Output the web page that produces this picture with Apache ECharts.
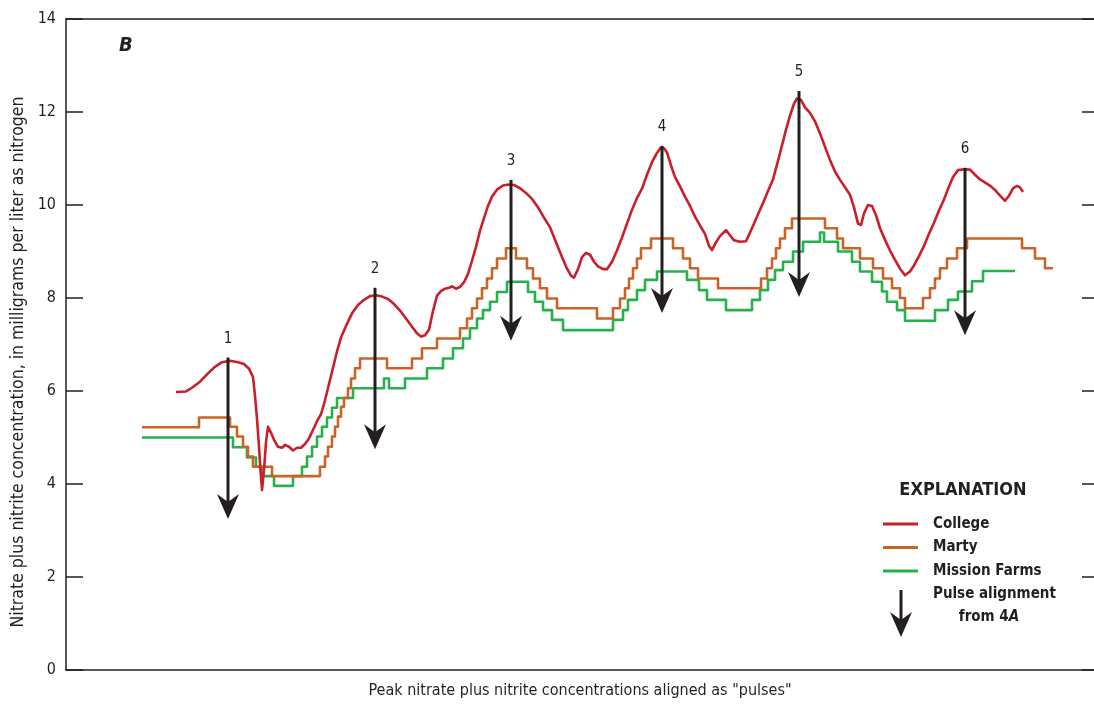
<!DOCTYPE html>
<html>
<head>
<meta charset="utf-8">
<script src="https://cdn.jsdelivr.net/npm/echarts@6/dist/echarts.min.js"></script>
<style>
html,body{margin:0;padding:0;background:#fff;}
#chart{width:1094px;height:707px;}
</style>
</head>
<body>
<div id="chart"></div>
<script>
// Aligned record: [position along the aligned record, nitrate plus nitrite (mg/L as N)]
const college = [
  [110,5.98],[120,5.99],[126,6.07],[134,6.2],[142,6.38],[149,6.52],[156,6.62],[164,6.65],[172,6.62],[178,6.58],
  [183,6.48],[187,6.3],[189,5.9],[191,5.4],[193,4.8],[194.5,4.3],[196,3.87],[198,4.3],[200,4.9],[202,5.23],
  [205,5.1],[208,4.95],[212,4.8],[216,4.78],[219,4.84],[223,4.8],[227,4.72],[231,4.78],[235,4.78],[239,4.86],
  [243,4.98],[247,5.16],[251,5.35],[255,5.5],[259,5.8],[263,6.15],[267,6.5],[271,6.85],[275,7.15],[280,7.4],
  [286,7.67],[292,7.85],[298,7.96],[304,8.04],[310,8.06],[316,8.03],[322,7.98],[328,7.87],[334,7.73],[340,7.56],
  [346,7.38],[351,7.24],[355,7.17],[359,7.2],[363,7.32],[367,7.72],[371,8.05],[375,8.15],[379,8.2],[383,8.22],
  [386,8.25],[390,8.2],[394,8.24],[398,8.34],[402,8.52],[406,8.8],[410,9.1],[414,9.45],[418,9.72],[422,9.98],
  [426,10.18],[431,10.33],[437,10.42],[443,10.44],[448,10.43],[454,10.36],[460,10.26],[466,10.13],[472,9.95],[478,9.73],
  [484,9.52],[490,9.2],[496,8.88],[501,8.63],[505,8.48],[508,8.44],[512,8.62],[516,8.88],[520,8.97],[524,8.93],
  [528,8.78],[532,8.68],[537,8.62],[541,8.62],[546,8.78],[551,9.02],[556,9.3],[561,9.6],[566,9.9],[571,10.15],
  [576,10.35],[581,10.65],[586,10.92],[591,11.12],[595,11.24],[598,11.22],[601,11.13],[605,10.85],[609,10.6],[614,10.4],
  [619,10.18],[624,9.98],[629,9.75],[634,9.56],[639,9.38],[643,9.12],[646,9.03],[650,9.2],[654,9.33],[660,9.46],
  [664,9.35],[668,9.24],[674,9.21],[680,9.22],[686,9.5],[692,9.8],[697,10.04],[702,10.3],[707,10.55],[712,10.95],
  [716,11.28],[720,11.62],[724,11.92],[728,12.18],[731,12.29],[735,12.26],[739,12.1],[744,11.98],[749,11.8],[754,11.54],
  [759,11.25],[764,10.97],[769,10.72],[774,10.54],[779,10.38],[784,10.22],[788,9.95],[792,9.6],[795,9.57],[798,9.82],
  [802,10.0],[806,9.98],[810,9.78],[814,9.5],[819,9.25],[824,9.02],[829,8.82],[834,8.63],[839,8.49],[844,8.57],
  [848,8.7],[853,8.9],[858,9.12],[863,9.38],[868,9.62],[873,9.88],[878,10.12],[883,10.4],[887,10.6],[892,10.75],
  [898,10.77],[904,10.76],[909,10.65],[914,10.55],[920,10.47],[925,10.4],[930,10.3],[935,10.18],[939,10.09],[943,10.2],
  [947,10.36],[951,10.41],[954,10.38],[957,10.28]
];

// Stepped records: each value holds until the next position
const marty = [
  [76,5.22],[133,5.43],[164,5.23],[171,5.02],[177,4.8],[182,4.59],[187,4.37],[206,4.17],[254,4.37],[259,4.59],
  [262,4.8],[266,5.02],[269,5.23],[272,5.45],[275,5.66],[278,5.85],[282,6.06],[285,6.27],[289,6.49],[294,6.7],
  [321,6.49],[346,6.7],[356,6.92],[371,7.13],[394,7.35],[401,7.56],[406,7.78],[411,7.99],[416,8.21],[421,8.42],
  [426,8.64],[431,8.85],[440,9.07],[450,8.85],[461,8.64],[467,8.42],[474,8.21],[481,7.99],[491,7.78],[531,7.56],
  [547,7.78],[554,7.99],[559,8.21],[563,8.42],[567,8.64],[571,8.85],[575,9.07],[585,9.28],[607,9.07],[617,8.85],
  [624,8.64],[632,8.42],[652,8.21],[695,8.42],[701,8.64],[706,8.85],[710,9.07],[714,9.28],[719,9.5],[726,9.71],
  [759,9.5],[771,9.28],[777,9.07],[794,8.85],[807,8.64],[817,8.42],[826,8.21],[834,8.0],[839,7.78],[857,8.0],
  [864,8.21],[869,8.42],[874,8.64],[881,8.85],[891,9.07],[901,9.28],[956,9.07],[969,8.85],[979,8.64],[987,8.64]
];

const missionFarms = [
  [76,5.0],[167,4.79],[181,4.57],[190,4.37],[196,4.17],[208,3.96],[227,4.17],[236,4.37],[241,4.59],[246,4.8],
  [251,5.02],[256,5.23],[261,5.43],[266,5.64],[271,5.85],[287,6.06],[318,6.27],[323,6.06],[339,6.27],[361,6.49],
  [377,6.7],[387,6.92],[397,7.13],[404,7.35],[411,7.56],[417,7.74],[424,7.92],[431,8.13],[441,8.35],[462,8.13],
  [469,7.92],[477,7.74],[486,7.53],[497,7.31],[547,7.53],[557,7.74],[562,7.96],[571,8.17],[579,8.39],[591,8.57],
  [621,8.39],[633,8.17],[641,7.96],[660,7.74],[686,7.96],[694,8.17],[702,8.39],[709,8.6],[717,8.78],[727,9.0],
  [737,9.21],[754,9.41],[758,9.21],[772,9.0],[786,8.78],[794,8.57],[806,8.35],[816,8.14],[821,7.92],[831,7.74],
  [839,7.51],[869,7.74],[882,7.96],[892,8.14],[906,8.36],[917,8.58],[949,8.58]
];

// Pulse alignment from 4A: [position, concentration at arrow top, concentration at arrow tip]
const pulses = [
  [162,6.72,3.25],[309,8.22,4.75],[445,10.54,7.08],[596,11.27,7.68],[733,12.45,8.02],[899,10.8,7.2]
];
const pulseNames = ['1','2','3','4','5','6'];

// Concentration scale
const yTicks = [0, 2, 4, 6, 8, 10, 12, 14];
const yMin = 0, yMax = 14, yStep = 2;
const xMin = 0, xMax = 1028;

const seriesNames = ['College','Marty','Mission Farms'];
const seriesColors = ['#c81f2b','#cb6328','#25b24a'];

const FONT = '"Liberation Sans Narrow","DejaVu Sans Condensed","Roboto Condensed","Liberation Sans",sans-serif';
const INK = '#231f20';

const chart = echarts.init(document.getElementById('chart'), null, {renderer:'canvas'});

// Down-pointing arrow with a notched head, tip at (x, tipY)
function arrowShapes(x, topY, tipY) {
  return [
    {type:'line', shape:{x1:x, y1:topY, x2:x, y2:tipY-12}, style:{stroke:INK, lineWidth:3}},
    {type:'polygon', shape:{points:[[x,tipY],[x-11,tipY-25],[x,tipY-17],[x+11,tipY-25]]}, style:{fill:INK}}
  ];
}

const lineSeries = (name, data, color, step, z) => ({
  name, type:'line', data, step, showSymbol:false, symbol:'none', z,
  lineStyle:{color, width:2.6, join:'round'}, itemStyle:{color},
  animation:false, silent:true
});

const legendTop = 524, legendGap = 23.5;
const legendFont = 'bold 15px ' + FONT;
const legendGraphics = [];
seriesNames.forEach((n, i) => {
  const y = legendTop + i * legendGap;
  legendGraphics.push({type:'line', shape:{x1:883, y1:y, x2:918, y2:y}, style:{stroke:seriesColors[i], lineWidth:3}});
  legendGraphics.push({type:'text', x:933, y:y, style:{text:n, font:legendFont, fill:INK, textVerticalAlign:'middle', textAlign:'left'}});
});
legendGraphics.push({type:'group', children: arrowShapes(901, 590, 637)});
legendGraphics.push({type:'text', x:933, y:594, style:{text:'Pulse alignment', font:legendFont, fill:INK, textVerticalAlign:'middle'}});
legendGraphics.push({type:'text', x:989, y:617, style:{
  text:'from 4{i|A}', font:legendFont, fill:INK, textVerticalAlign:'middle', textAlign:'center',
  rich:{i:{fontStyle:'italic', fontWeight:'bold', fontSize:15, fontFamily:FONT, fill:INK}}
}});
legendGraphics.push({type:'text', x:963, y:490, style:{text:'EXPLANATION', font:'bold 18px ' + FONT, fill:INK, textVerticalAlign:'middle', textAlign:'center'}});
legendGraphics.push({type:'text', x:119, y:46, style:{text:'B', font:'italic bold 20px ' + FONT, fill:INK, textVerticalAlign:'middle'}});
legendGraphics.push({type:'text', x:18, y:362, rotation:Math.PI/2, style:{
  text:'Nitrate plus nitrite concentration, in milligrams per liter as nitrogen',
  font:'17.5px ' + FONT, fill:INK, textAlign:'center', textVerticalAlign:'middle'
}});

// Frame lines stay on the plot edges
const frameLine = () => ({show:true, onZero:false, lineStyle:{color:INK, width:1.5}});

const option = {
  animation:false,
  backgroundColor:'#fff',
  textStyle:{fontFamily:FONT, color:INK},
  grid:{left:66, top:19, right:0, bottom:37},
  xAxis:[
    {
      type:'value', min:xMin, max:xMax, position:'bottom',
      axisLine:frameLine(), axisTick:{show:false}, axisLabel:{show:false}, splitLine:{show:false},
      name:'Peak nitrate plus nitrite concentrations aligned as "pulses"',
      nameLocation:'middle', nameGap:13,
      nameTextStyle:{fontSize:16, color:INK, fontFamily:FONT}
    },
    {
      type:'value', min:xMin, max:xMax, position:'top',
      axisLine:frameLine(), axisTick:{show:false}, axisLabel:{show:false}, splitLine:{show:false}
    }
  ],
  yAxis:[
    {
      // left edge: frame line and tick labels
      type:'value', min:yMin, max:yMax, interval:yStep, position:'left',
      axisLine:frameLine(), axisTick:{show:false},
      axisLabel:{fontSize:16, color:INK, margin:10, fontFamily:FONT},
      splitLine:{show:false}
    },
    {
      // right edge: inward ticks
      type:'value', position:'right', min:yMin, max:yMax, interval:yStep,
      axisLine:{show:false, onZero:false},
      axisTick:{show:true, inside:true, length:12, lineStyle:{color:INK, width:1.5}},
      axisLabel:{show:false}, splitLine:{show:false}
    }
  ],
  series:[
    lineSeries(seriesNames[2], missionFarms, seriesColors[2], 'end', 2),
    lineSeries(seriesNames[1], marty, seriesColors[1], 'end', 3),
    lineSeries(seriesNames[0], college, seriesColors[0], false, 4),
    {
      // inward tick marks on the left edge, one per scale value
      type:'custom', name:'left ticks', data:yTicks.map(v => [xMin, v]), z:5, animation:false, silent:true,
      renderItem:(params, api) => {
        const p = api.coord([api.value(0), api.value(1)]);
        return {type:'line', shape:{x1:p[0], y1:p[1], x2:p[0] + 17, y2:p[1]}, style:{stroke:INK, lineWidth:1.5}};
      }
    },
    {
      type:'custom', name:'Pulse alignment', data:pulses, z:10, animation:false, silent:true,
      renderItem:(params, api) => {
        const x = api.value(0);
        const top = api.coord([x, api.value(1)]);
        const tip = api.coord([x, api.value(2)]);
        return {
          type:'group',
          children: arrowShapes(top[0], top[1], tip[1]).concat([{
            type:'text', x:top[0], y:top[1]-11,
            style:{text:pulseNames[params.dataIndex], font:'15px ' + FONT, fill:INK, textAlign:'center', textVerticalAlign:'bottom'}
          }])
        };
      }
    }
  ],
  graphic:legendGraphics
};
chart.setOption(option);
</script>
</body>
</html>
